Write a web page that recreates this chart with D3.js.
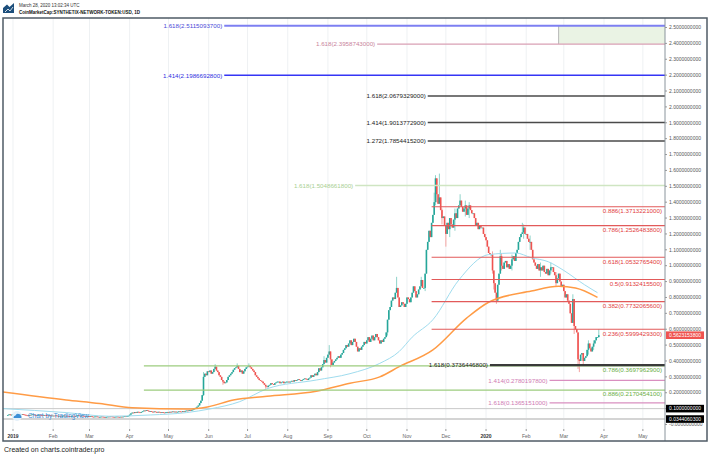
<!DOCTYPE html>
<html><head><meta charset="utf-8">
<script src="https://cdn.jsdelivr.net/npm/d3@7/dist/d3.min.js"></script>
<style>
html,body{margin:0;padding:0;background:#fff;}
svg{display:block;font-family:"Liberation Sans",Arial,sans-serif;}
</style></head><body>
<svg id="chart" width="710" height="455"></svg>
<script>
// ---------------- DATA ----------------
const firstDay = "2018-12-28";
const firstOpen = 0.058;
const dec18 = [0.060,0.064,0.058,0.062];
const jan19 = [0.065,0.068,0.066,0.070,0.064,0.060,0.062,0.066,0.063,0.061,0.058,0.057,0.060,0.059,0.062,0.064,0.061,0.060,0.058,0.059,0.062,0.060,0.058,0.057,0.060,0.059,0.057,0.055,0.058,0.057,0.056];
const feb19 = [0.056,0.055,0.057,0.054,0.053,0.055,0.052,0.054,0.056,0.053,0.055,0.054,0.052,0.050,0.053,0.055,0.054,0.052,0.056,0.058,0.055,0.053,0.056,0.054,0.052,0.051,0.053,0.052];
const mar19 = [0.050,0.052,0.049,0.048,0.050,0.051,0.049,0.047,0.048,0.050,0.049,0.047,0.046,0.048,0.050,0.049,0.051,0.050,0.048,0.047,0.049,0.050,0.048,0.047,0.049,0.048,0.050,0.052,0.051,0.053,0.055];
const apr19 = [0.062,0.070,0.075,0.072,0.078,0.074,0.080,0.077,0.075,0.079,0.083,0.088,0.085,0.090,0.086,0.082,0.084,0.080,0.078,0.082,0.079,0.076,0.080,0.077,0.074,0.078,0.075,0.073,0.077,0.079];
const may19 = [0.076,0.080,0.078,0.082,0.079,0.081,0.077,0.080,0.083,0.081,0.079,0.084,0.082,0.086,0.088,0.085,0.090,0.087,0.092,0.095,0.100,0.105,0.112,0.120,0.135,0.150,0.185,0.300,0.320,0.310,0.335];
const jun19 = [0.330,0.340,0.320,0.330,0.350,0.364,0.340,0.330,0.310,0.300,0.280,0.270,0.260,0.265,0.280,0.300,0.310,0.320,0.330,0.345,0.355,0.360,0.370,0.350,0.330,0.340,0.320,0.335,0.350,0.360];
const jul19 = [0.365,0.370,0.360,0.350,0.340,0.330,0.310,0.300,0.290,0.280,0.275,0.270,0.260,0.250,0.240,0.235,0.245,0.250,0.260,0.255,0.250,0.260,0.265,0.270,0.270,0.260,0.265,0.270,0.260,0.265,0.270];
const aug19 = [0.270,0.265,0.270,0.275,0.270,0.280,0.275,0.280,0.285,0.280,0.275,0.280,0.285,0.290,0.285,0.280,0.290,0.295,0.310,0.300,0.310,0.320,0.310,0.330,0.354,0.340,0.360,0.380,0.406,0.390,0.420];
const sep19 = [0.440,0.460,0.410,0.375,0.390,0.400,0.410,0.420,0.430,0.420,0.440,0.450,0.470,0.480,0.500,0.490,0.510,0.530,0.500,0.520,0.540,0.520,0.490,0.460,0.480,0.470,0.490,0.500,0.520,0.510];
const oct19 = [0.530,0.550,0.520,0.540,0.560,0.530,0.550,0.570,0.550,0.530,0.510,0.530,0.520,0.540,0.550,0.580,0.660,0.720,0.740,0.780,0.800,0.790,0.830,0.860,0.800,0.740,0.750,0.770,0.760,0.740,0.760];
const nov19 = [0.800,0.790,0.770,0.800,0.830,0.870,0.840,0.800,0.820,0.850,0.870,0.910,0.860,0.860,0.950,1.100,1.150,1.220,1.180,1.270,1.320,1.400,1.550,1.450,1.390,1.430,1.350,1.300,1.310,1.250];
const dec19 = [1.200,1.270,1.230,1.300,1.260,1.240,1.290,1.330,1.300,1.360,1.380,1.410,1.370,1.340,1.360,1.380,1.320,1.360,1.380,1.350,1.330,1.330,1.300,1.250,1.270,1.230,1.250,1.240,1.240,1.200,1.180];
const jan20 = [1.160,1.120,1.080,1.070,1.070,0.970,0.890,0.830,0.780,0.880,0.950,1.060,1.000,0.980,1.020,1.030,0.990,1.010,0.980,1.000,1.040,1.060,1.030,1.080,1.100,1.150,1.180,1.200,1.210,1.240,1.200];
const feb20 = [1.200,1.170,1.150,1.150,1.100,1.040,1.020,1.000,0.980,1.010,0.970,0.990,0.970,1.000,0.960,0.950,0.980,0.940,0.970,0.990,0.990,0.960,0.940,0.890,0.920,0.950,0.900,0.870,0.880];
const mar20 = [0.840,0.800,0.820,0.780,0.760,0.700,0.640,0.790,0.620,0.600,0.580,0.410,0.400,0.440,0.450,0.400,0.420,0.430,0.470,0.510,0.480,0.460,0.490,0.510,0.530,0.550,0.550,0.5623153800];

// visible wicks: [date, high, low]
const wicks = [
  ["2019-05-28",0.330,0.180],["2019-06-06",0.380,null],["2019-06-12",null,0.250],
  ["2019-06-23",0.385,null],["2019-07-02",0.385,null],["2019-07-15",null,0.225],
  ["2019-08-29",0.430,null],["2019-09-02",0.500,null],["2019-09-03",null,0.360],
  ["2019-10-17",null,0.560],["2019-10-24",0.930,null],["2019-11-12",0.930,null],
  ["2019-11-15",null,0.840],["2019-11-22",1.460,null],["2019-11-23",1.570,1.380],
  ["2019-11-24",1.520,1.400],["2019-11-26",1.580,null],["2019-11-28",1.360,1.260],
  ["2019-12-01",null,1.120],["2019-12-04",null,1.180],["2019-12-08",1.360,1.220],
  ["2019-12-12",1.450,null],["2019-12-16",1.410,1.310],["2019-12-19",1.400,1.300],
  ["2020-01-06",1.090,0.950],["2020-01-07",null,0.850],["2020-01-09",null,0.760],
  ["2020-01-12",1.100,null],["2020-01-13",1.080,0.970],["2020-01-21",1.070,0.970],
  ["2020-01-29",1.270,null],["2020-01-30",1.260,1.170],["2020-02-04",1.190,1.100],
  ["2020-02-12",1.020,0.930],["2020-02-20",1.020,0.950],["2020-02-24",0.960,0.870],
  ["2020-03-08",0.820,null],["2020-03-09",null,0.570],["2020-03-12",null,0.350],
  ["2020-03-13",null,0.330],["2020-03-16",null,0.370],["2020-03-20",0.530,0.440],
  ["2020-03-24",0.530,0.470],["2020-03-28",0.600,null]
];

// moving averages
const maSlowDates  = ["2018-12-24","2019-02-11","2019-03-09","2019-04-03","2019-05-15","2019-05-31","2019-06-20","2019-07-16","2019-08-23","2019-09-18","2019-10-11","2019-10-26","2019-11-21","2019-12-17","2020-01-03","2020-02-05","2020-02-26","2020-03-10","2020-03-27"];
const maSlowValues = [0.205,0.155,0.132,0.105,0.097,0.110,0.154,0.178,0.210,0.260,0.300,0.364,0.470,0.670,0.770,0.840,0.870,0.860,0.800];
const maFastDates  = ["2018-12-24","2019-02-11","2019-03-16","2019-04-17","2019-05-15","2019-06-02","2019-06-25","2019-07-16","2019-08-23","2019-09-18","2019-10-11","2019-10-26","2019-11-05","2019-11-21","2019-12-11","2020-01-03","2020-01-24","2020-02-05","2020-02-18","2020-03-01","2020-03-17","2020-03-27"];
const maFastValues = [0.100,0.075,0.052,0.060,0.075,0.098,0.144,0.225,0.280,0.320,0.385,0.460,0.550,0.660,0.910,1.070,1.080,1.050,1.025,0.970,0.880,0.830];

// fibonacci levels
const fibRatios = ["1.618","1.618","1.414","1.618","1.414","1.272","1.618","0.886","0.786","0.618","0.5","0.382","0.236","0.786","0.886","1.618","1.414","1.618"];
const fibValues = [2.5115093700,2.3958743000,2.1986692800,2.0679329000,1.9013772900,1.7854415200,1.5048661800,1.3713221000,1.2526483800,1.0532765400,0.9132415500,0.7732065600,0.5999429300,0.3697962900,0.2170454100,0.3736446800,0.2780197800,0.1365151000];
const fibStarts = ["2019-06-13","2019-10-09","2019-06-13","2019-11-17","2019-11-17","2019-11-17","2019-09-22","2019-11-20","2019-11-20","2019-11-20","2019-11-20","2019-11-20","2019-11-20","2019-04-12","2019-04-12","2020-01-04","2020-02-19","2020-02-19"];
const fibGroups = ["violet","pinkTop","blue","black","black","black","lightgreen","red","red","red","red","red","red","green","green","blackBold","pink","pink"];
const zoneStart = "2020-02-26", zoneLow = 2.3958743000, zoneHigh = 2.5115093700;

const refLevels = [0.1000000000, 0.0344060300];
const lastPrice = 0.5623153800;

const xTickLabels = ["2019","Feb","Mar","Apr","May","Jun","Jul","Aug","Sep","Oct","Nov","Dec","2020","Feb","Mar","Apr","May"];
const yTickValues = d3.range(0,26).map(i => i/10);
const yTickLabels = ["-0.0000000000","0.1000000000","0.2000000000","0.3000000000","0.4000000000","0.5000000000","0.6000000000","0.7000000000","0.8000000000","0.9000000000","1.0000000000","1.1000000000","1.2000000000","1.3000000000","1.4000000000","1.5000000000","1.6000000000","1.7000000000","1.8000000000","1.9000000000","2.0000000000","2.1000000000","2.2000000000","2.3000000000","2.4000000000","2.5000000000"];

// ---------------- STYLES ----------------
const fibStyle = {
  violet:    {stroke:"#7d7ff2", width:2,   text:"#4a4ad8", pos:"left"},
  pinkTop:   {stroke:"#d9a0b4", width:1.2, text:"#c9849b", pos:"left"},
  blue:      {stroke:"#3535f5", width:1.5, text:"#2f2fe0", pos:"left"},
  black:     {stroke:"#4a4a4a", width:1.5, text:"#222",    pos:"left"},
  lightgreen:{stroke:"#cfe5c2", width:1.5, text:"#a9cf92", pos:"left"},
  red:       {stroke:"#e25a5a", width:1.2, text:"#e23c3c", pos:"below"},
  green:     {stroke:"#9ccc7e", width:1.2, text:"#6aae45", pos:"below"},
  blackBold: {stroke:"#3a3a3a", width:2.2, text:"#222",    pos:"left"},
  pink:      {stroke:"#d98fc0", width:1.2, text:"#cf7ab3", pos:"left"}
};

// ---------------- CHART ----------------
const plot = {left:3, right:665, top:18, bottom:429};
const svg = d3.select("#chart");
const parse = d3.utcParse("%Y-%m-%d");
const fmt = d3.utcFormat("%Y-%m-%d");

const x = d3.scaleUtc()
  .domain([new Date(Date.UTC(2018,11,24,7)), new Date(Date.UTC(2020,4,18,2))])
  .range([plot.left, plot.right]);
const y = d3.scaleLinear().domain([0,2.5]).range([424.5,27.5]);

svg.append("defs").append("clipPath").attr("id","clip")
  .append("rect").attr("x",plot.left).attr("y",plot.top)
  .attr("width",plot.right-plot.left).attr("height",plot.bottom-plot.top);

// header
const logo = svg.append("g");
logo.append("path").attr("d","M3,13 L3,8 L7,4.5 L9.5,7 L14,3 L14,13 Z").attr("fill","#1d4f7c");
logo.append("path").attr("d","M5,12 L8,9 L10,11 L13,7").attr("stroke","#fff").attr("stroke-width",0.8).attr("fill","none");
svg.append("text").attr("x",19).attr("y",7.3).attr("font-size",4.5).attr("fill","#333")
  .text("March 28, 2020 13:02:34 UTC");
svg.append("text").attr("x",19).attr("y",14.3).attr("font-size",4.5).attr("font-weight","bold").attr("fill","#111")
  .text("CoinMarketCap:SYNTHETIX-NETWORK-TOKEN:USD, 1D");

// grid
const monthTicks = d3.utcMonth.range(new Date(Date.UTC(2019,0,1)), new Date(Date.UTC(2020,5,1)));
svg.append("g").selectAll("line").data(monthTicks).join("line")
  .attr("x1",d=>x(d)).attr("x2",d=>x(d)).attr("y1",plot.top).attr("y2",plot.bottom)
  .attr("stroke","#eef1f3").attr("stroke-width",1);

const body = svg.append("g").attr("clip-path","url(#clip)");

// reference gray lines
body.selectAll(".ref").data(refLevels).join("line")
  .attr("x1",plot.left).attr("x2",plot.right).attr("y1",d=>y(d)).attr("y2",d=>y(d))
  .attr("stroke",(d,i)=> i===0 ? "#c9c9c9" : "#d4d4d4").attr("stroke-width",(d,i)=> i===0 ? 1 : 2);

// zone box
body.append("rect").attr("x",x(parse(zoneStart))).attr("y",y(zoneHigh))
  .attr("width",plot.right - x(parse(zoneStart))).attr("height",y(zoneLow)-y(zoneHigh))
  .attr("fill","#eaf3e4");
body.append("line").attr("x1",x(parse(zoneStart))).attr("x2",x(parse(zoneStart)))
  .attr("y1",y(zoneHigh)).attr("y2",y(zoneLow)).attr("stroke","#b8b8b8").attr("stroke-width",1);

// candles
const closes = [].concat(dec18,jan19,feb19,mar19,apr19,may19,jun19,jul19,aug19,sep19,oct19,nov19,dec19,jan20,feb20,mar20);
const wickMap = new Map(wicks.map(w => [w[0], w]));
const start = parse(firstDay);
const candles = closes.map((c,i) => {
  const date = d3.utcDay.offset(start, i);
  const o = i === 0 ? firstOpen : closes[i-1];
  const w = wickMap.get(fmt(date));
  let hi = Math.max(o,c), lo = Math.min(o,c);
  if (w && w[1] != null) hi = Math.max(hi, w[1]);
  if (w && w[2] != null) lo = Math.min(lo, w[2]);
  return {date, o, c, hi, lo, up: c >= o};
});
const cg = body.append("g");
cg.selectAll("line").data(candles).join("line")
  .attr("x1",d=>x(d.date)).attr("x2",d=>x(d.date))
  .attr("y1",d=>y(d.hi)).attr("y2",d=>y(d.lo))
  .attr("stroke",d=>d.up ? "#8fd3ca" : "#f5a3a1").attr("stroke-width",1);
cg.selectAll("rect").data(candles).join("rect")
  .attr("x",d=>x(d.date)-0.8).attr("width",1.6)
  .attr("y",d=>y(Math.max(d.o,d.c)))
  .attr("height",d=>Math.max(0.8, Math.abs(y(d.o)-y(d.c))))
  .attr("fill",d=>d.up ? "#26a69a" : "#ef5350");

// moving averages
const line = d3.line().x(d=>x(d[0])).y(d=>y(d[1])).curve(d3.curveMonotoneX);
body.append("path").datum(maFastDates.map((d,i)=>[parse(d), maFastValues[i]]))
  .attr("d",line).attr("fill","none").attr("stroke","#9fdcee").attr("stroke-width",1);
body.append("path").datum(maSlowDates.map((d,i)=>[parse(d), maSlowValues[i]]))
  .attr("d",line).attr("fill","none").attr("stroke","#ff9b45").attr("stroke-width",1.5);

// fib lines
const fibs = fibValues.map((v,i)=>({v, r:fibRatios[i], s:parse(fibStarts[i]), g:fibGroups[i]}));
const fg = svg.append("g");
fibs.forEach(f => {
  const st = fibStyle[f.g];
  const x0 = x(f.s), yy = y(f.v);
  fg.append("line").attr("x1",x0).attr("x2",plot.right).attr("y1",yy).attr("y2",yy)
    .attr("stroke",st.stroke).attr("stroke-width",st.width);
  const label = f.r + "(" + f.v.toFixed(10) + ")";
  if (st.pos === "left") {
    fg.append("text").attr("x",x0-2).attr("y",yy).attr("dy","0.35em").attr("text-anchor","end")
      .attr("font-size",6.2).attr("fill",st.text).text(label);
  } else {
    fg.append("text").attr("x",plot.right-3).attr("y",yy+6.3).attr("text-anchor","end")
      .attr("font-size",6.2).attr("fill",st.text).text(label);
  }
});

// watermark
const wm = svg.append("g");
wm.append("circle").attr("cx",17).attr("cy",416).attr("r",5).attr("fill","#e3f0fa");
wm.append("path").attr("d","M13.5,418 Q13.5,415.5 15.5,415.5 Q16.5,413 18.8,414 Q21,414 21,416 Q22,416.5 21.3,418 Z").attr("fill","#3d8fd6");
wm.append("text").attr("x",28).attr("y",418.2).attr("font-size",6.4).attr("fill","#3d8fd6").text("Chart by TradingView");

// x axis
const xg = svg.append("g");
xg.selectAll("line").data(monthTicks).join("line")
  .attr("x1",d=>x(d)).attr("x2",d=>x(d)).attr("y1",plot.bottom).attr("y2",plot.bottom+2)
  .attr("stroke","#999");
xg.selectAll("text").data(monthTicks).join("text")
  .attr("x",d=>x(d)).attr("y",438).attr("text-anchor","middle").attr("font-size",5)
  .attr("font-weight",(d,i)=> xTickLabels[i].length===4 ? "bold" : "normal")
  .attr("fill",(d,i)=> xTickLabels[i].length===4 ? "#333" : "#666")
  .text((d,i)=>xTickLabels[i]);

// y axis (right)
const yg = svg.append("g");
yg.selectAll("line").data(yTickValues).join("line")
  .attr("x1",plot.right).attr("x2",plot.right+2).attr("y1",d=>y(d)).attr("y2",d=>y(d)).attr("stroke","#999");
yg.selectAll("text").data(yTickValues).join("text")
  .attr("x",plot.right+4).attr("y",d=>y(d)).attr("dy","0.35em").attr("font-size",5).attr("fill","#555")
  .text((d,i)=>yTickLabels[i]);

// price boxes
function tag(v, bg){
  const g = svg.append("g");
  g.append("rect").attr("x",plot.right+1).attr("y",y(v)-3.8).attr("width",38).attr("height",7.6).attr("fill",bg);
  g.append("text").attr("x",plot.right+4).attr("y",y(v)).attr("dy","0.35em").attr("font-size",5).attr("fill","#fff")
    .text(v.toFixed(10));
}
refLevels.forEach(v => tag(v, "#000"));
tag(lastPrice, "#ef5350");

// frame
svg.append("line").attr("x1",plot.right).attr("x2",plot.right).attr("y1",plot.top).attr("y2",441)
  .attr("stroke","#8a949c").attr("stroke-width",1);
svg.append("rect").attr("x",3).attr("y",18).attr("width",704).attr("height",423)
  .attr("fill","none").attr("stroke","#4f5b66").attr("stroke-width",1.5);

// footer
svg.append("text").attr("x",4).attr("y",451.5).attr("font-size",7).attr("fill","#222")
  .text("Created on charts.cointrader.pro");
</script>
</body></html>
